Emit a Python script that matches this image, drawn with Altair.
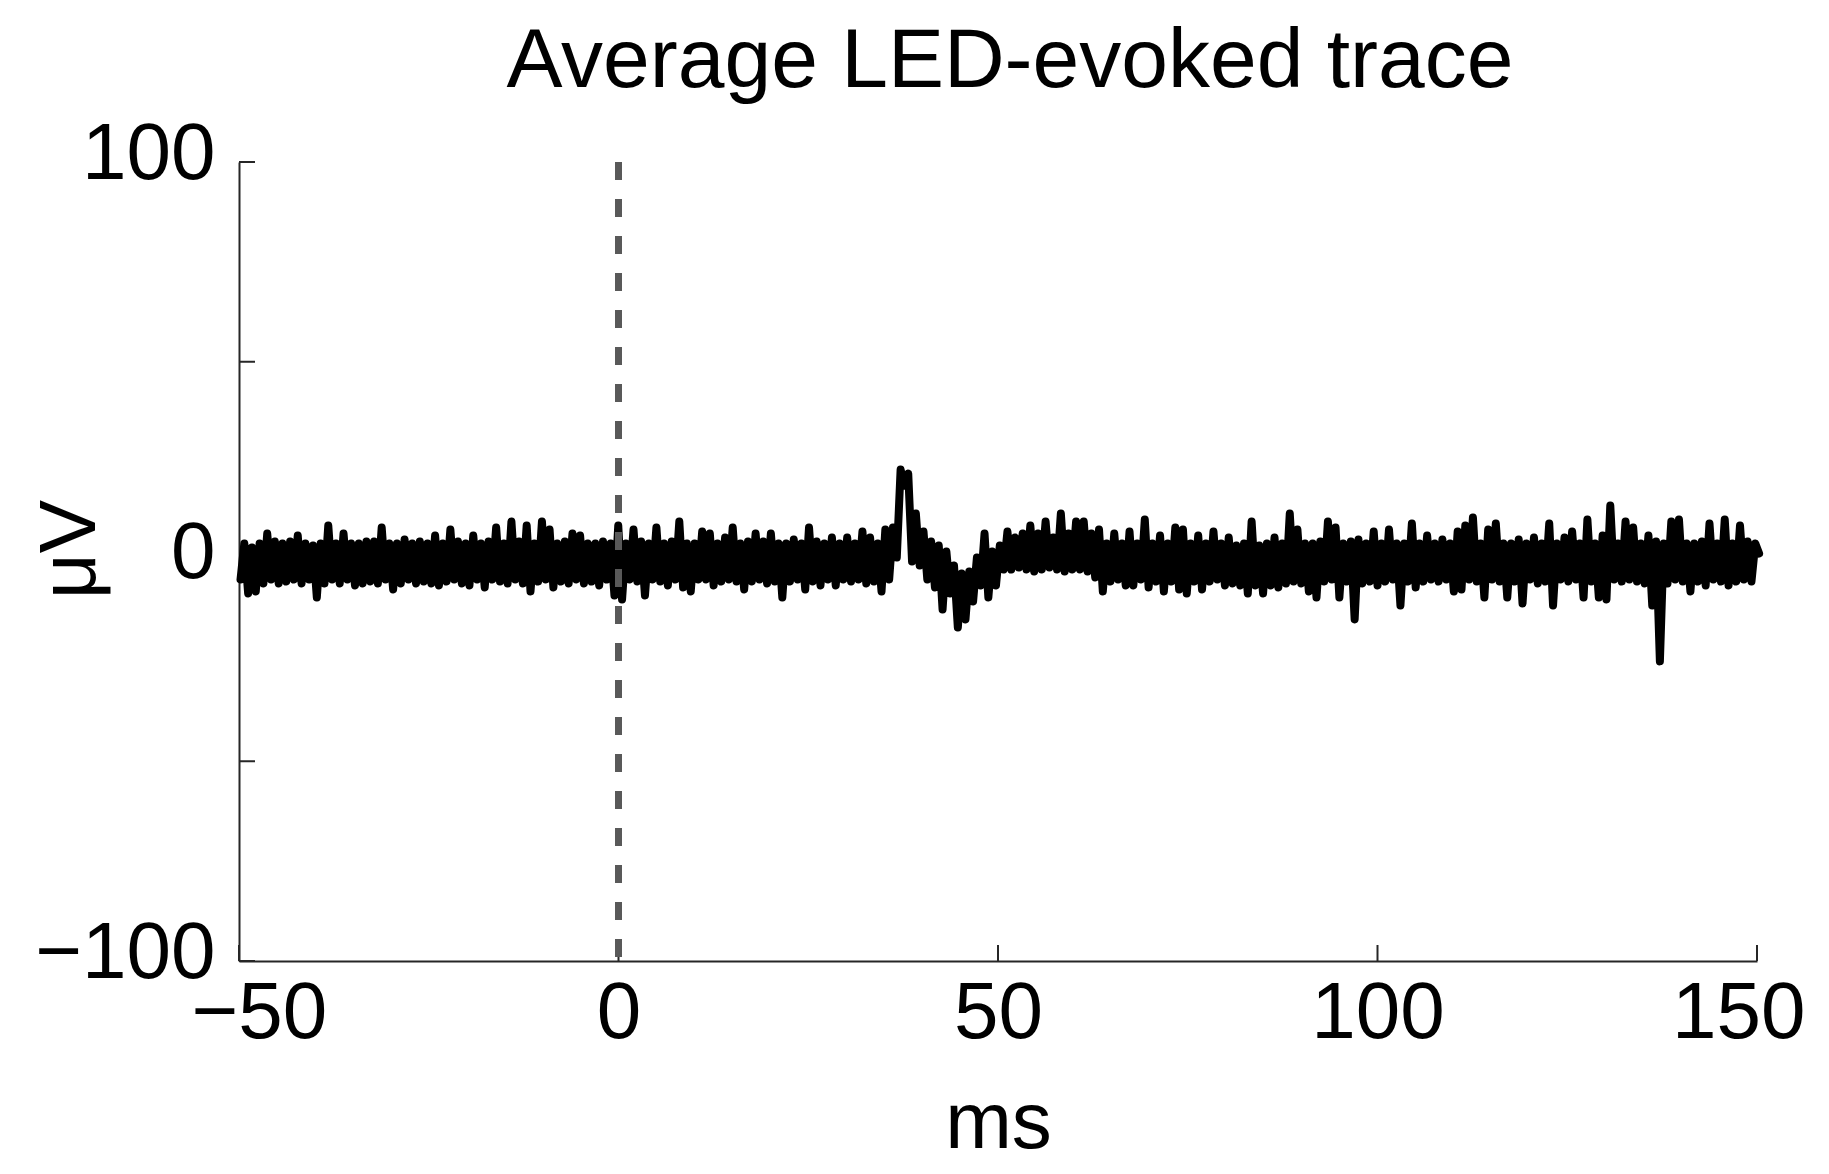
import altair as alt
import pandas as pd

# ---- data (µV); sample grid calibrated against the axis ----
T_START = -49.8
T_STEP = 0.5027

trace_pre = [  # about -50 .. 0 ms
    -4.5, 4.5, -8, 3.5, -7.5, 4.5, -5.5, 7, -4.5, 5, -5.5, 4.5, -5, 5, -4.5, 6.5, -5.5, 4.5, -4.5, 4,
    -9, 4.5, -5.5, 9, -4.5, 4.5, -5.5, 7, -4.5, 4.5, -6, 4.5, -5.5, 5, -5, 5, -5.5, 8.5, -4.5, 4.5,
    -7, 4.5, -5.5, 5.5, -4.5, 4.5, -5.5, 5, -5, 4.5, -5.5, 6.5, -6, 4.5, -5, 8, -4.5, 5, -5.5, 4.5,
    -6, 6.5, -4.5, 4.5, -6.5, 5, -4.5, 8.5, -5, 4.5, -5.5, 10, -4.5, 5, -5.5, 9, -7.5, 4.5, -5, 10,
    -4.5, 8, -6.5, 4.5, -5, 5, -5.5, 7, -4.5, 6.5, -5.5, 4.5, -5, 4.5, -6, 5, -4.5, 4.5, -8.5, 9,
]
trace_0_50 = [  # about 0 .. 50 ms
    -9.5, 4.5, -4.5, 8, -5, 5, -8.5, 4.5, -4.5, 8.5, -5, 4.5, -6, 5, -4.5, 10, -6.5, 4.5, -7.5, 4.5,
    -4.5, 7.5, -4.5, 7, -6, 4.5, -5, 6, -4.5, 8.5, -5, 4.5, -7, 5, -5, 7, -4.5, 5, -5.5, 7,
    -5, 4.5, -9, 4.5, -5, 5.5, -4.5, 4.5, -7, 8.5, -5, 5, -6, 4.5, -4.5, 6, -6, 4.5, -4.5, 6,
    -5, 4.5, -4.5, 7.5, -5.5, 6, -5, 4.5, -7.5, 8, -4.5, 8.5, 1, 23, 19, 22, 0, 12, -1, 7.5,
    -4.5, 5, -6.5, 4, -12, 2.5, -8, -1, -16.5, -3, -14.5, -2.5, -10, 1, -6, 7, -9, 2.5, -6, 4,
]
trace_50_100 = [  # about 50 .. 100 ms
    -2, 7.5, -2, 6, -1.5, 7, -2, 9, -2.5, 7, -2, 10, -1.5, 6, -2, 12, -2.5, 7, -2, 10,
    -2, 10, -2.5, 7, -4, 8, -7.5, 4.5, -5, 7, -4.5, 4.5, -6, 7.5, -6, 4.5, -4.5, 10.5, -6.5, 4.5,
    -5, 6.5, -7.5, 4.5, -5, 8.5, -7, 8, -8, 4.5, -5, 6.5, -7, 4.5, -5, 7.5, -4.5, 4.5, -6, 6,
    -5.5, 4, -6, 4.5, -8, 10, -6, 4, -8, 4.5, -6, 6, -6.5, 4.5, -5.5, 12, -5, 8, -5.5, 4.5,
    -7.5, 4.5, -9, 5, -5, 10, -4.5, 8.5, -9, 4.5, -5, 5, -14.5, 5.5, -5.5, 4.5, -5, 7.5, -6, 4.5,
]
trace_100_150 = [  # about 100 .. 150 ms
    -5, 8, -4.5, 4.5, -11, 4.5, -5, 9.5, -6.5, 4.5, -5, 6.5, -4.5, 4.5, -5, 5.5, -4.5, 4.5, -7.5, 7.5,
    -7, 9, -4.5, 11, -5, 4.5, -9, 8, -4.5, 9.5, -5, 4.5, -9, 4.5, -5, 5.5, -10.5, 4.5, -4.5, 6,
    -5.5, 4.5, -5, 9.5, -11, 4.5, -4.5, 6, -5, 7.5, -4.5, 4.5, -9, 10.5, -5, 4.5, -9, 6.5, -9.5, 14,
    -4.5, 4.5, -5, 10, -4.5, 8.5, -5, 4.5, -5.5, 6.5, -11, 5, -25, 4.5, -5.5, 10, -4.5, 10.5, -5, 4.5,
    -7.5, 4.5, -5, 5, -6, 9.5, -4.5, 4.5, -5, 10.5, -6, 4.5, -5, 9, -4.5, 5, -5, 4.5, 2,
]

X_TICKS = [-50, 0, 50, 100, 150]
Y_TICKS = [-100, -50, 0, 50, 100]
Y_LABELS = [-100, 0, 100]
STIM_T = [0]

values = trace_pre + trace_0_50 + trace_50_100 + trace_100_150
times = [T_START + T_STEP * i for i in range(len(values))]
df = pd.DataFrame({"t": times, "v": values})
df_stim = pd.DataFrame({"t": STIM_T, "top": [100] * len(STIM_T), "bottom": [-100] * len(STIM_T)})
df_xt = pd.DataFrame({"t": X_TICKS})
df_yt = pd.DataFrame({"v": Y_TICKS})

W, H = 1518, 799
FONT = "Liberation Sans"

xscale = alt.Scale(domain=[-50, 150], nice=False, zero=False)
yscale = alt.Scale(domain=[-100, 100], nice=False, zero=False)

xaxis = alt.Axis(
    values=X_TICKS, title="ms", grid=False, ticks=False, tickSize=0,
    labelFont=FONT, labelFontSize=80, labelColor="black", labelPadding=13,
    labelFlush=True, labelFlushOffset=48, labelOverlap=False, labelLimit=500,
    domainColor="#262626", domainWidth=2,
    titleFont=FONT, titleFontSize=80, titleFontWeight="normal", titleColor="black",
    titleX=W / 2, titleY=186, titleBaseline="alphabetic", titleAlign="center",
)
yaxis = alt.Axis(
    values=Y_LABELS, title="μV", grid=False, ticks=False, tickSize=0,
    labelFont=FONT, labelFontSize=80, labelColor="black", labelPadding=24,
    labelOffset=-8, labelFlush=False, labelOverlap=False, labelLimit=500,
    domainColor="#262626", domainWidth=2,
    titleFont=FONT, titleFontSize=80, titleFontWeight="normal", titleColor="black",
    titleAngle=270, titleX=-169, titleY=387, titleBaseline="middle", titleAlign="center",
)

line = alt.Chart(df).mark_line(
    color="black", strokeWidth=8, strokeJoin="round", strokeCap="round"
).encode(
    x=alt.X("t:Q", scale=xscale, axis=xaxis),
    y=alt.Y("v:Q", scale=yscale, axis=yaxis),
)

stim = alt.Chart(df_stim).mark_rule(
    color="#595959", strokeWidth=7, strokeDash=[18, 19]
).encode(
    x=alt.X("t:Q", scale=xscale),
    y=alt.Y("top:Q", scale=yscale),
    y2="bottom:Q",
)

yt = alt.Chart(df_yt).mark_rule(color="#262626", strokeWidth=2).encode(
    y=alt.Y("v:Q", scale=yscale),
    x=alt.value(0),
    x2=alt.value(16),
)
xt = alt.Chart(df_xt).mark_rule(color="#262626", strokeWidth=2).encode(
    x=alt.X("t:Q", scale=xscale),
    y=alt.value(H),
    y2=alt.value(H - 16),
)

chart = alt.layer(yt, xt, line, stim).properties(
    width=W,
    height=H,
    title=alt.TitleParams(
        text="Average LED-evoked trace", font=FONT, fontSize=84,
        fontWeight="normal", color="black", anchor="middle", frame="group",
        baseline="alphabetic", offset=0, dy=57, dx=12,
    ),
    autosize=alt.AutoSizeParams(type="none"),
    padding={"left": 231, "top": 154, "right": 60, "bottom": 205},
    background="white",
).configure_view(strokeWidth=0)

chart.save("out.html", embed_options={"renderer": "svg", "actions": False})
